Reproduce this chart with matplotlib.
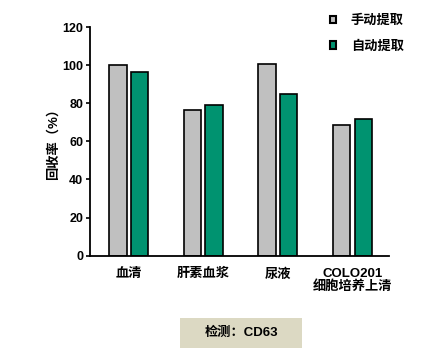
import numpy as np
import matplotlib.pyplot as plt
from matplotlib.patches import Rectangle

plt.rcParams['font.family'] = ['Liberation Sans', 'Noto Sans CJK SC', 'DejaVu Sans']
plt.rcParams['axes.unicode_minus'] = False

# 样本类型
samples = ['血清', '肝素血浆', '尿液', 'COLO201\n细胞培养上清']
series = ['手动提取', '自动提取']

# 回收率 (%)
manual = [100.0, 76.4, 100.6, 68.4]
auto = [96.2, 79.2, 85.0, 71.9]

yticks = [0, 20, 40, 60, 80, 100, 120]

fig = plt.figure(figsize=(4.43, 3.55), dpi=100)
ax = fig.add_axes([90 / 443, 1 - 255.7 / 355, 299 / 443, 228.7 / 355])

x = np.arange(len(samples))
bw = 0.235
off = 0.145
ax.bar(x - off, manual, bw, color='#c0c0c0', edgecolor='black', linewidth=1.2, label=series[0])
ax.bar(x + off, auto, bw, color='#009370', edgecolor='black', linewidth=1.2, label=series[1])

ax.set_xlim(-0.52, 3.49)
ax.set_ylim(0, 120)
ax.set_yticks(yticks)
ax.set_yticklabels([str(t) for t in yticks], fontsize=9, fontweight='bold')
ax.tick_params(axis='y', length=3, width=1.2, pad=2)
ax.set_xticks(x)
ax.set_xticklabels(samples, fontsize=9.5, fontweight='bold', linespacing=0.95)
ax.tick_params(axis='x', length=0, pad=9)

for s in ['top', 'right']:
    ax.spines[s].set_visible(False)
ax.spines['left'].set_linewidth(1.3)
ax.spines['bottom'].set_linewidth(1.3)

ax.set_ylabel('回收率（%）', fontsize=9.5, fontweight='bold', labelpad=2)

leg = ax.legend(loc='upper left', bbox_to_anchor=(318 / 443, 1 - 3 / 355), bbox_transform=fig.transFigure,
                frameon=False, prop={'size': 9.5, 'weight': 'bold'}, handlelength=0.5, handleheight=0.5,
                handletextpad=1.1, labelspacing=1.0)
for h in leg.legend_handles:
    h.set_linewidth(1.5)

# 底部说明框
fig.patches.append(Rectangle((180 / 443, 1 - 348 / 355), 122 / 443, 30 / 355,
                             transform=fig.transFigure, facecolor='#dcd9c3', edgecolor='none'))
fig.text(241 / 443, 1 - 333 / 355, '检测：CD63', ha='center', va='center',
         fontsize=9.5, fontweight='bold')

fig.savefig('out.png', dpi=100)
